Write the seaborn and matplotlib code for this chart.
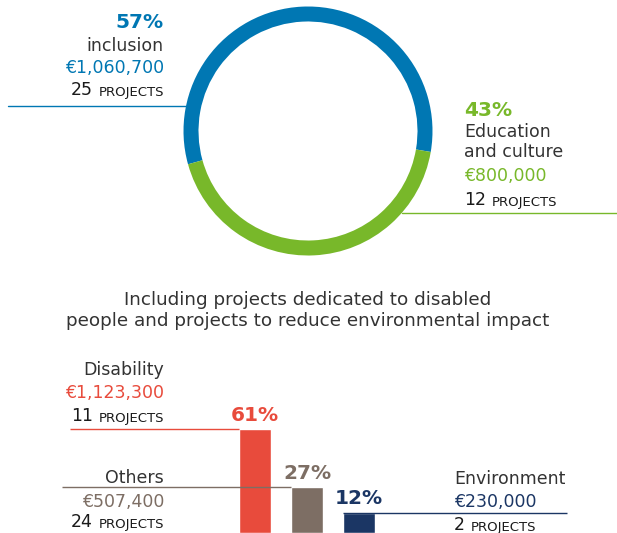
import matplotlib
matplotlib.use("Agg")
import seaborn as sns
import pandas as pd
from matplotlib import pyplot

## donut data
themes = ["inclusion", "Education\nand culture"]
theme_pct = [57, 43]
theme_amount = ["€1,060,700", "€800,000"]
theme_projects = [25, 12]
theme_colors = ["#0077B3", "#78B82A"]

## bar data
subsets = ["Disability", "Others", "Environment"]
subset_pct = [61, 27, 12]
subset_amount = ["€1,123,300", "€507,400", "€230,000"]
subset_projects = [11, 24, 2]
subset_colors = ["#E84B3C", "#7D6E64", "#1B3664"]

sns.set_theme(style="white")
pyplot.rcParams['font.family'] = ['DejaVu Sans']

W, H = 617, 533
fig = pyplot.figure(figsize=(W / 100, H / 100), dpi=100)
DARK = "#333333"
BLACK = "#1a1a1a"


def px(x, y):
    return x / W, 1 - y / H


def label_block(x, ys, name, amount, nproj, color, ha):
    # name, amount, projects count
    fig.text(*px(x, ys[0]), name, color=DARK, fontsize=12.5, ha=ha,
             va="center", linespacing=1.15)
    fig.text(*px(x, ys[1]), amount, color=color, fontsize=12.5, ha=ha,
             va="center")
    if ha == "right":
        t = fig.text(*px(x, ys[2]), "PROJECTS", color=BLACK, fontsize=9.5,
                     ha="right", va="baseline")
        pyplot.annotate(str(nproj), xy=(0, 0), xycoords=t,
                        xytext=(-4, 0), textcoords="offset points",
                        color=BLACK, fontsize=12.5, ha="right", va="bottom")
    else:
        t = fig.text(*px(x, ys[2]), str(nproj), color=BLACK, fontsize=12.5,
                     ha="left", va="baseline")
        pyplot.annotate("PROJECTS", xy=(1, 0), xycoords=t,
                        xytext=(4, 0), textcoords="offset points",
                        color=BLACK, fontsize=9.5, ha="left", va="bottom")


## donut
R_PX = 124.5
cx, cy = 308, 131
half = 130
ax_pie = fig.add_axes([(cx - half) / W, 1 - (cy + half) / H,
                       2 * half / W, 2 * half / H])
ax_pie.pie(theme_pct, colors=theme_colors, startangle=-9.7,
           counterclock=True, radius=1,
           wedgeprops=dict(width=15 / R_PX, edgecolor="none"))
lim = half / R_PX
ax_pie.set_xlim(-lim, lim)
ax_pie.set_ylim(-lim, lim)
ax_pie.set_aspect("equal")
ax_pie.axis("off")

# leader lines from the ring to the label blocks
yb = (cy - 106) / R_PX
ax_pie.plot([(8 - cx) / R_PX, -(1 - yb ** 2) ** 0.5], [yb, yb],
            color=theme_colors[0], lw=1.0, clip_on=False)
yg = (cy - 213) / R_PX
ax_pie.plot([(1 - yg ** 2) ** 0.5, (W - cx) / R_PX], [yg, yg],
            color=theme_colors[1], lw=1.0, clip_on=False)

fig.text(*px(164, 23), f"{theme_pct[0]}%", color=theme_colors[0],
         fontsize=14.5, fontweight="bold", ha="right", va="center")
label_block(164, [46, 68, 96], themes[0], theme_amount[0],
            theme_projects[0], theme_colors[0], "right")
fig.text(*px(464, 110), f"{theme_pct[1]}%", color=theme_colors[1],
         fontsize=14.5, fontweight="bold", ha="left", va="center")
label_block(464, [142, 176, 205], themes[1], theme_amount[1],
            theme_projects[1], theme_colors[1], "left")

## subtitle
fig.text(*px(308, 300), "Including projects dedicated to disabled",
         color=DARK, fontsize=13.2, ha="center", va="center")
fig.text(*px(308, 321), "people and projects to reduce environmental impact",
         color=DARK, fontsize=13.2, ha="center", va="center")

## bars
unit = 52.0          # px per category
x0 = 255.0           # px of first bar centre
ppp = 1.70           # px per percent
top_px = 340
ax_bar = fig.add_axes([0, 0, 1, (H - top_px) / H])
df = pd.DataFrame({"subset": subsets, "pct": subset_pct})
sns.barplot(data=df, x="subset", y="pct", hue="subset",
            palette=subset_colors, width=0.6, legend=False, ax=ax_bar,
            saturation=1)
ax_bar.set_xlim(-x0 / unit, (W - x0) / unit)
ax_bar.set_ylim(0, (H - top_px) / ppp)
ax_bar.axis("off")

for i, (p, c) in enumerate(zip(subset_pct, subset_colors)):
    ax_bar.text(i, p + 2.5, f"{p}%", color=c, fontsize=14.5,
                fontweight="bold", ha="center", va="bottom")

# leader lines at bar tops
ax_bar.hlines(subset_pct[0], (70 - x0) / unit, -0.3, color=subset_colors[0],
              lw=1.0)
ax_bar.hlines(subset_pct[1], (62 - x0) / unit, 0.7, color=subset_colors[1],
              lw=1.0)
ax_bar.hlines(subset_pct[2], 1.7, (567 - x0) / unit, color=subset_colors[2],
              lw=1.0)

label_block(164, [370, 393, 422], subsets[0], subset_amount[0],
            subset_projects[0], subset_colors[0], "right")
label_block(164, [478, 502, 528], subsets[1], subset_amount[1],
            subset_projects[1], subset_colors[1], "right")
label_block(454, [479, 502, 530], subsets[2], subset_amount[2],
            subset_projects[2], subset_colors[2], "left")

fig.savefig("out.png", dpi=100)
